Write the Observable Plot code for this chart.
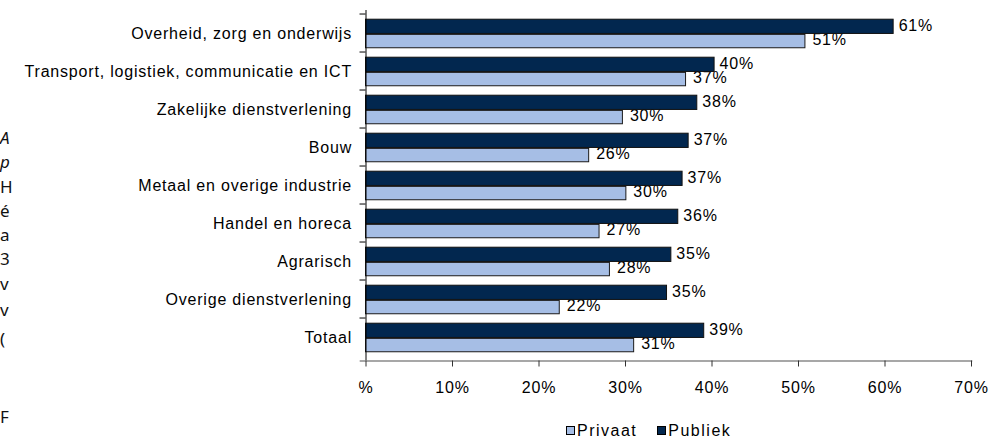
<!DOCTYPE html>
<html>
<head>
<meta charset="utf-8">
<script src="https://cdn.jsdelivr.net/npm/d3@7"></script>
<script src="https://cdn.jsdelivr.net/npm/@observablehq/plot@0.6"></script>
<style>
  body { margin: 0; background: #fff; }
  #wrap { position: relative; width: 994px; height: 439px; overflow: hidden; background: #fff; }
  #chart { position: absolute; left: 0; top: 0; }
  #legend { position: absolute; left: 566px; top: 422px; display: flex; align-items: center;
            font-family: "Liberation Sans", Arial, sans-serif; font-size: 16px; letter-spacing: 1.5px; line-height: 18px; color: #000; }
  #legend .sw { width: 9px; height: 9px; box-sizing: border-box; border: 1px solid #000; margin-right: 2px; margin-top: -1px; }
  #legend .item { display: flex; align-items: center; margin-right: 20px; }
  #frag { position: absolute; left: 0; top: 0; width: 20px; height: 439px;
          font-family: "Noto Sans", sans-serif; font-size: 17px; line-height: 17px; color: #111; }
  #frag span { position: absolute; left: 0px; white-space: nowrap; }
</style>
</head>
<body>
<div id="wrap">
  <div id="chart"></div>
  <div id="legend"></div>
  <div id="frag"></div>
</div>
<script>
// ---- data ----
const categories = [
  "Overheid, zorg en onderwijs",
  "Transport, logistiek, communicatie en ICT",
  "Zakelijke dienstverlening",
  "Bouw",
  "Metaal en overige industrie",
  "Handel en horeca",
  "Agrarisch",
  "Overige dienstverlening",
  "Totaal"
];
const privaat = [50.8, 37.0, 29.7, 25.8, 30.1, 27.0, 28.2, 22.4, 31.0];
const publiek = [61.0, 40.3, 38.3, 37.3, 36.6, 36.1, 35.3, 34.8, 39.1];
const seriesNames = ["Privaat", "Publiek"];
const xTicks = [0, 10, 20, 30, 40, 50, 60, 70];
const xTickLabels = ["%", "10%", "20%", "30%", "40%", "50%", "60%", "70%"];
// text fragments visible at the left edge of the reference
const fragments = [
  {t: "A", b: 143, i: true}, {t: "p", b: 167, i: true}, {t: "H", b: 192}, {t: "é", b: 216},
  {t: "a", b: 240}, {t: "3", b: 264}, {t: "v", b: 289}, {t: "v", b: 315}, {t: "(", b: 344}, {t: "F", b: 422}
];

// ---- styles ----
const colors = {Privaat: "#a6bee5", Publiek: "#02274f"};

const privRows = categories.map((c, i) => ({category: c, value: privaat[i]}));
const pubRows = categories.map((c, i) => ({category: c, value: publiek[i]}));
const pct = d => Math.round(d.value) + "%";

const plotH = 412, plotTop = 10, plotBottom = 360.5;
const band = (plotBottom - plotTop) / categories.length;
const pxPerUnit = (971 - 365.5) / 70;

const chart = Plot.plot({
  width: 994,
  height: plotH,
  marginLeft: 365.5,
  marginRight: 23,
  marginTop: plotTop,
  marginBottom: plotH - plotBottom,
  x: {domain: [0, 70], axis: null, label: null},
  y: {domain: categories, padding: 0, axis: null, label: null},
  style: {fontFamily: "'Liberation Sans', Arial, sans-serif", fontSize: "16px", letterSpacing: "0.8px", background: "transparent", overflow: "visible", color: "#000"},
  marks: [
    // Privaat bars + labels
    Plot.barX(privRows, {x: "value", y: "category", fill: colors.Privaat, stroke: "#1a1a1a", strokeWidth: 1,
      insetTop: 20.4, insetBottom: band - 34.7}),
    Plot.text(privRows, {x: "value", y: "category", text: pct, textAnchor: "start", dx: 7, dy: 6, fill: "#000"}),
    // Publiek bars + labels
    Plot.barX(pubRows, {x: "value", y: "category", fill: colors.Publiek, stroke: "#111", strokeWidth: 1,
      insetTop: 5.2, insetBottom: band - 20.4}),
    Plot.text(pubRows, {x: "value", y: "category", text: pct, textAnchor: "start", dx: 5, dy: -8, fill: "#000"}),
    // y axis line and category boundary ticks
    Plot.ruleX([0], {stroke: "#000", strokeWidth: 1}),
    Plot.ruleY(categories, {y: d => d, x1: -6 / pxPerUnit, x2: 0, dy: -band / 2, stroke: "#000", strokeWidth: 1}),
    // category labels
    Plot.axisY({tickSize: 0, tickPadding: 14, fill: "#000", label: null}),
    // x axis
    Plot.frame({anchor: "bottom", stroke: "#8a8a8a", strokeWidth: 1.6, insetLeft: -5.5}),
    Plot.axisX({ticks: xTicks, tickFormat: d => xTickLabels[xTicks.indexOf(d)], tickSize: 6, tickPadding: 15,
      stroke: "#333", fill: "#000", label: null})
  ]
});
document.getElementById("chart").appendChild(chart);

// legend
const legend = document.getElementById("legend");
for (const s of seriesNames) {
  const item = document.createElement("div");
  item.className = "item";
  const sw = document.createElement("div");
  sw.className = "sw";
  sw.style.background = colors[s];
  const label = document.createElement("span");
  label.textContent = s;
  item.appendChild(sw);
  item.appendChild(label);
  legend.appendChild(item);
}

// left-edge fragments
const frag = document.getElementById("frag");
for (const f of fragments) {
  const sp = document.createElement("span");
  sp.textContent = f.t;
  sp.style.top = (f.b - 14) + "px";
  if (f.i) sp.style.fontStyle = "italic";
  frag.appendChild(sp);
}
</script>
</body>
</html>
